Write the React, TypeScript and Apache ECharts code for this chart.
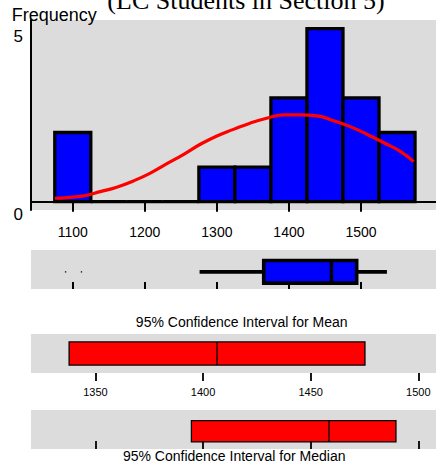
import React, { useEffect, useRef } from 'react';
import * as echarts from 'echarts';

// Histogram bins (lower / upper edges) and frequencies
const binLower = [1075, 1125, 1175, 1225, 1275, 1325, 1375, 1425, 1475, 1525];
const binUpper = [1125, 1175, 1225, 1275, 1325, 1375, 1425, 1475, 1525, 1575];
const binCounts = [2, 0, 0, 0, 1, 1, 3, 5, 3, 2];

// Fitted normal curve
const fitX = [1075, 1092, 1115, 1138, 1161, 1184, 1207, 1230, 1254, 1277, 1300, 1323, 1346, 1369, 1392, 1416, 1439, 1462, 1485, 1508, 1531, 1555, 1573];
const fitY = [0.10, 0.12, 0.17, 0.29, 0.42, 0.60, 0.82, 1.09, 1.37, 1.66, 1.90, 2.09, 2.27, 2.41, 2.51, 2.51, 2.48, 2.34, 2.17, 1.95, 1.71, 1.45, 1.16];

// Boxplot: [low whisker, Q1, median, Q3, high whisker]
const boxStats = [1276, 1365, 1459, 1494, 1536];
const outliers = [1090, 1112];

// Confidence intervals: [lower, estimate, upper]
const meanCI = [1337.8, 1406.5, 1475.2];
const medianCI = [1394.6, 1458.5, 1489.6];

const histTicks = [1100, 1200, 1300, 1400, 1500];
const ciTicks = [1350, 1400, 1450, 1500];
const freqTicks = [0, 5];

const FONT = "'Liberation Sans', Arial, sans-serif";
const GRAY = '#dcdcdc';

export default function App() {
  const ref = useRef<HTMLDivElement>(null);

  useEffect(() => {
    if (!ref.current) return;
    const chart = echarts.init(ref.current, null, { renderer: 'svg' });

    const histMin = 1042;
    const histMax = 1604.1;
    const ciMin = 1320.1;
    const ciMax = 1508.2;

    const histData = binLower.map((lo, i) => [lo, binUpper[i], binCounts[i]]);
    const plain = (v: number) => String(v);

    const ciRender = (level: number, halfH: number) => (params: any, api: any) => {
      const a = api.coord([api.value(0), level]);
      const m = api.coord([api.value(1), level]);
      const b = api.coord([api.value(2), level]);
      return {
        type: 'group',
        children: [
          {
            type: 'rect',
            shape: { x: a[0], y: a[1] - halfH, width: b[0] - a[0], height: halfH * 2 },
            style: { fill: '#ff0000', stroke: '#000', lineWidth: 1.3 },
          },
          {
            type: 'line',
            shape: { x1: m[0], y1: a[1] - halfH, x2: m[0], y2: a[1] + halfH },
            style: { stroke: '#000', lineWidth: 1.3 },
          },
        ],
      };
    };

    const option: any = {
      animation: false,
      grid: [
        { left: 31, top: 20, width: 405, height: 190, show: true, backgroundColor: GRAY, borderWidth: 0 },
        { left: 31, top: 250, width: 405, height: 39, show: true, backgroundColor: GRAY, borderWidth: 0 },
        { left: 31, top: 334, width: 405, height: 39, show: true, backgroundColor: GRAY, borderWidth: 0 },
        { left: 31, top: 410, width: 405, height: 39, show: true, backgroundColor: GRAY, borderWidth: 0 },
      ],
      xAxis: [
        {
          gridIndex: 0, type: 'value', min: histMin, max: histMax, position: 'bottom',
          axisLine: { show: true, lineStyle: { color: '#000', width: 2 } },
          axisTick: { show: true, length: 10, lineStyle: { color: '#000', width: 2 }, customValues: histTicks },
          axisLabel: { show: true, customValues: histTicks, formatter: plain, margin: 15, fontSize: 14, color: '#000', fontFamily: FONT },
          splitLine: { show: false },
        },
        {
          gridIndex: 1, type: 'value', min: histMin, max: histMax, position: 'top',
          axisLine: { show: false },
          axisTick: { show: true, length: 7, lineStyle: { color: '#000', width: 2 }, customValues: histTicks },
          axisLabel: { show: false },
          splitLine: { show: false },
        },
        {
          gridIndex: 2, type: 'value', min: ciMin, max: ciMax, position: 'bottom',
          axisLine: { show: false },
          axisTick: { show: true, length: 8, lineStyle: { color: '#000', width: 1.8 }, customValues: ciTicks },
          axisLabel: { show: true, customValues: ciTicks, formatter: plain, margin: 13, fontSize: 11, color: '#000', fontFamily: FONT },
          splitLine: { show: false },
        },
        {
          gridIndex: 3, type: 'value', min: ciMin, max: ciMax, position: 'top',
          axisLine: { show: false },
          axisTick: { show: true, length: 8, lineStyle: { color: '#000', width: 1.8 }, customValues: ciTicks },
          axisLabel: { show: false },
          splitLine: { show: false },
        },
      ],
      yAxis: [
        {
          gridIndex: 0, type: 'value', min: -0.24, max: 5.251,
          axisLine: { show: true, lineStyle: { color: '#000', width: 2 } },
          axisTick: { show: false },
          axisLabel: {
            show: true, customValues: freqTicks, margin: 8, color: '#000', verticalAlign: 'top',
            formatter: (v: number) => (v === 0 ? '{lo|' + v + '}' : '{hi|' + v + '}'),
            rich: {
              lo: { fontSize: 17, fontFamily: FONT, color: '#000', lineHeight: 25 },
              hi: { fontSize: 17, fontFamily: FONT, color: '#000', lineHeight: 16 },
            },
          },
          splitLine: { show: false },
        },
        { gridIndex: 1, type: 'value', min: 0, max: 1, show: false },
        { gridIndex: 2, type: 'value', min: 0, max: 1, show: false },
        { gridIndex: 3, type: 'value', min: 0, max: 1, show: false },
      ],
      graphic: [
        {
          type: 'text', x: 246, y: 0.5, z: 10,
          style: {
            text: '(LC Students in Section 5)', fontFamily: "'Liberation Serif', 'Times New Roman', serif",
            fontSize: 26, fill: '#000', align: 'center', verticalAlign: 'middle',
          },
        },
        {
          type: 'text', x: 11.7, y: 14.8, z: 10,
          style: { text: 'Frequency', fontFamily: FONT, fontSize: 18, fill: '#000', align: 'left', verticalAlign: 'middle' },
        },
        {
          type: 'text', x: 241.7, y: 322.4, z: 10,
          style: { text: '95% Confidence Interval for Mean', fontFamily: FONT, fontSize: 14, fill: '#000', align: 'center', verticalAlign: 'middle' },
        },
        {
          type: 'text', x: 234.2, y: 455.9, z: 10,
          style: { text: '95% Confidence Interval for Median', fontFamily: FONT, fontSize: 14, fill: '#000', align: 'center', verticalAlign: 'middle' },
        },
      ],
      series: [
        {
          type: 'custom', xAxisIndex: 0, yAxisIndex: 0, z: 2,
          data: histData,
          encode: { x: [0, 1], y: 2 },
          renderItem: (params: any, api: any) => {
            const p0 = api.coord([api.value(0), api.value(2)]);
            const p1 = api.coord([api.value(1), 0]);
            return {
              type: 'rect',
              shape: { x: p0[0], y: p0[1], width: p1[0] - p0[0], height: p1[1] - p0[1] },
              style: { fill: '#0000ff', stroke: '#000', lineWidth: 3.3 },
            };
          },
        },
        {
          type: 'line', xAxisIndex: 0, yAxisIndex: 0, z: 5,
          data: fitX.map((x, i) => [x, fitY[i]]),
          smooth: true, showSymbol: false, symbol: 'none',
          lineStyle: { color: '#ff0000', width: 3.2 },
        },
        {
          type: 'custom', xAxisIndex: 1, yAxisIndex: 1, z: 2,
          data: [boxStats],
          renderItem: (params: any, api: any) => {
            const level = 0.44;
            const halfH = 11.3;
            const lo = api.coord([api.value(0), level]);
            const q1 = api.coord([api.value(1), level]);
            const md = api.coord([api.value(2), level]);
            const q3 = api.coord([api.value(3), level]);
            const hi = api.coord([api.value(4), level]);
            return {
              type: 'group',
              children: [
                { type: 'line', shape: { x1: lo[0], y1: lo[1], x2: hi[0], y2: hi[1] }, style: { stroke: '#000', lineWidth: 3.8 } },
                {
                  type: 'rect',
                  shape: { x: q1[0], y: q1[1] - halfH, width: q3[0] - q1[0], height: halfH * 2 },
                  style: { fill: '#0000ff', stroke: '#000', lineWidth: 3.6 },
                },
                { type: 'line', shape: { x1: md[0], y1: md[1] - halfH, x2: md[0], y2: md[1] + halfH }, style: { stroke: '#000', lineWidth: 3.4 } },
              ],
            };
          },
        },
        {
          type: 'scatter', xAxisIndex: 1, yAxisIndex: 1, z: 3,
          data: outliers.map((v) => [v, 0.44]),
          symbol: 'circle', symbolSize: 1.6,
          itemStyle: { color: '#000' },
        },
        {
          type: 'custom', xAxisIndex: 2, yAxisIndex: 2, z: 2,
          data: [meanCI],
          renderItem: ciRender(0.5, 11.6),
        },
        {
          type: 'custom', xAxisIndex: 3, yAxisIndex: 3, z: 2,
          data: [medianCI],
          renderItem: ciRender(0.455, 10.6),
        },
      ],
    };

    chart.setOption(option);
    return () => chart.dispose();
  }, []);

  return <div ref={ref} style={{ position: 'absolute', left: 0, top: 0, width: 436, height: 466 }} />;
}
